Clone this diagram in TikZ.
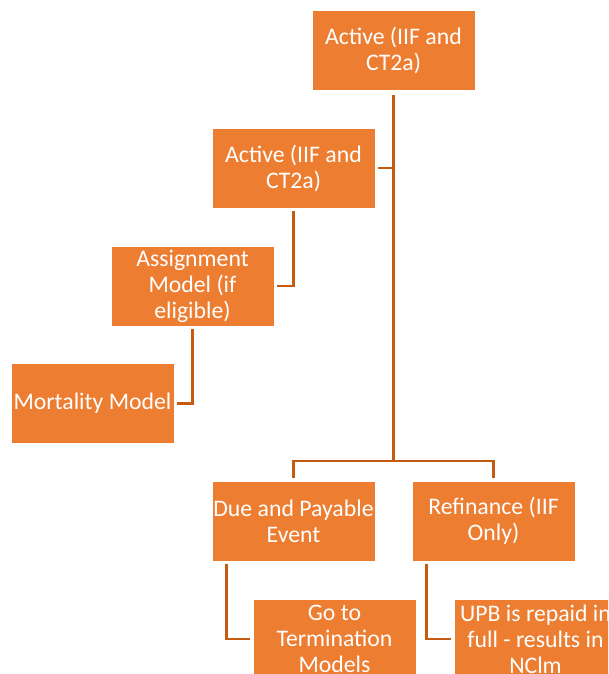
\documentclass[tikz,border=0pt]{standalone}
\usepackage{fontspec}
\setmainfont{Carlito}
\definecolor{boxOrange}{RGB}{237,125,49}
\definecolor{lineOrange}{RGB}{197,90,17}
\usetikzlibrary{positioning,calc}

\begin{document}
\begin{tikzpicture}[x=0.025cm, y=-0.025cm,
    stage/.style={rectangle, fill=boxOrange, draw=white, line width=0.6pt,
      text=white, align=center, inner sep=0pt,
      minimum width=4.075cm, minimum height=2cm,
      font=\fontsize{16.9}{18.5}\selectfont},
    link/.style={draw=lineOrange, line width=1.8pt}]
    \useasboundingbox (0,0) rectangle (608,674);
    \clip (0,0) rectangle (608,674);
    % boxes
    \node[stage] (top) at (393.5,50) {Active (IIF and\\CT2a)};
    \node[stage] (active) at (293.5,168) {Active (IIF and\\CT2a)};
    \node[stage] (assign) at (192.5,286) {Assignment\\Model (if\\eligible)};
    \node[stage] (mort) at (92.5,403.5) {Mortality Model};
    \node[stage] (due) at (293.5,521) {Due and Payable\\Event};
    \node[stage] (refi) at (493.5,521) {Refinance (IIF\\Only)};
    \node[stage] (goto) at (334.5,639) {Go to\\Termination\\Models};
    \node[stage] (upb) at (535.5,639) {UPB is repaid in\\full - results in\\NClm};
    \coordinate (split) at (393.5,461);
    % connectors
    \draw[link, shorten <=3pt] (top.south) -- (split);
    \draw[link, shorten >=2pt] (split) -| (due.north);
    \draw[link, shorten >=2pt] (split) -| (refi.north);
    \draw[link, shorten <=2pt] (active.east) -- (active.east -| top.south);
    \draw[link, shorten <=2pt, shorten >=2pt] (active.south) |- (assign.east);
    \draw[link, shorten <=2pt, shorten >=2pt] (assign.south) |- (mort.east);
    \draw[link, shorten <=2pt, shorten >=2pt] ($(due.south west)+(15,0)$) |- (goto.west);
    \draw[link, shorten <=2pt, shorten >=2pt] ($(refi.south west)+(15,0)$) |- (upb.west);
\end{tikzpicture}
\end{document}
